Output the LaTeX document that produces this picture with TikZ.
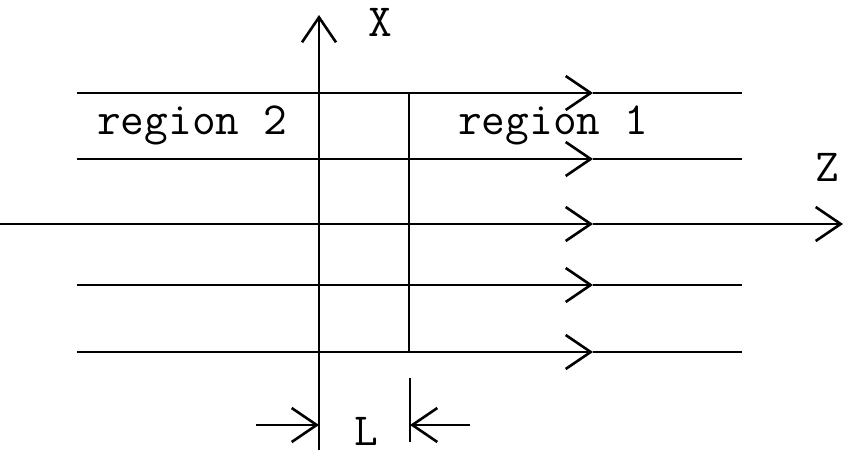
\documentclass[tikz,border=0pt]{standalone}
\usetikzlibrary{arrows.meta}
\tikzstyle{field}=[line width=1pt]
\tikzstyle{head}=[-{Straight Barb[length=12.5pt,width=17pt,line width=1.3pt]}]
\tikzstyle{slab}=[line width=1.4pt]
\tikzstyle{lbl}=[font=\ttfamily\fontsize{23}{26}\selectfont, inner sep=0pt]

\begin{document}
\begin{tikzpicture}[x=0.5pt,y=-0.5pt]
	\useasboundingbox (0,0) rectangle (844,453);
	% field lines
	\foreach \y in {93,159,285,352} {
		\draw[field,head] (77,\y) -- (593,\y);
		\draw[field] (593,\y) -- (742,\y);
	}
	% z axis
	\coordinate (zstart) at (0,224);
	\coordinate (zmid) at (593,224);
	\coordinate (zend) at (843,224);
	\draw[field,head] (zstart) -- (zmid);
	\draw[field,head] (zmid) -- (zend);
	% x axis
	\coordinate (xstart) at (319,450);
	\coordinate (xend) at (319,15);
	\draw[field,head] (xstart) -- (xend);
	% slab
	\draw[slab] (319,93) -- (409,93) -- (409,352) -- (319,352);
	% thickness
	\coordinate (lfrom) at (256,425);
	\coordinate (lto) at (319,425);
	\coordinate (rfrom) at (470,425);
	\coordinate (rto) at (410,425);
	\draw[field,head] (lfrom) -- (lto);
	\draw[field,head] (rfrom) -- (rto);
	\draw[field] (410,378) -- (410,442);
	% labels
	\node[lbl,anchor=base] (xlab) at (380,37) {X};
	\node[lbl,anchor=base] (zlab) at (827,182) {Z};
	\node[lbl,anchor=base] (reg2) at (192,135) {region 2};
	\node[lbl,anchor=base] (reg1) at (553,135) {region 1};
	\node[lbl,anchor=base] (len) at (366,445) {L};
\end{tikzpicture}
\end{document}
